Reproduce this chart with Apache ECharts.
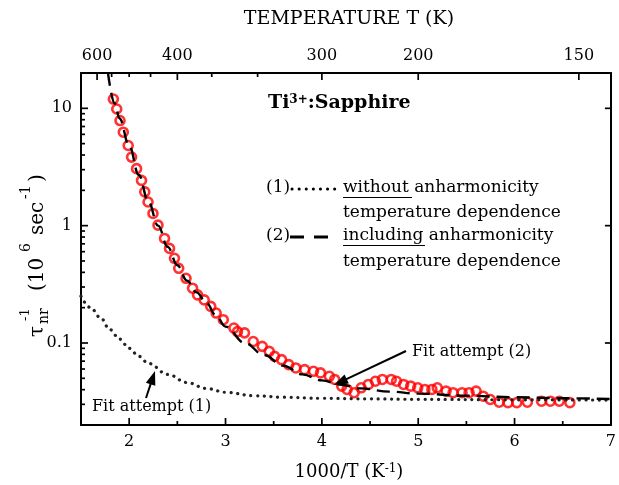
<!DOCTYPE html>
<html><head><meta charset="utf-8">
<script src="https://cdn.jsdelivr.net/npm/echarts@6/dist/echarts.min.js"></script>
<style>html,body{margin:0;padding:0;background:#fff}#c{width:619px;height:485px}</style>
</head><body><div id="c"></div>
<script>
// ---- measured data (1000/T in K^-1, rate in 10^6 s^-1) ----
const dataX = [1.836,1.871,1.905,1.939,1.990,2.025,2.077,2.128,2.162,2.196,2.247,2.299,2.367,2.419,2.470,2.514,2.590,2.658,2.710,2.779,2.847,2.903,2.977,3.087,3.124,3.197,3.288,3.381,3.454,3.509,3.582,3.656,3.729,3.821,3.913,3.986,4.078,4.133,4.206,4.262,4.335,4.408,4.482,4.555,4.628,4.720,4.775,4.848,4.922,4.995,5.069,5.142,5.198,5.289,5.362,5.455,5.528,5.601,5.675,5.748,5.840,5.932,6.023,6.133,6.280,6.371,6.464,6.574];
const dataY = [12.0,9.87,7.87,6.26,4.82,3.84,3.06,2.43,1.94,1.59,1.27,1.01,0.778,0.640,0.527,0.433,0.356,0.293,0.257,0.233,0.205,0.180,0.158,0.134,0.125,0.122,0.103,0.0936,0.0849,0.0769,0.0721,0.0654,0.0613,0.0593,0.0574,0.0556,0.0520,0.0489,0.0429,0.0402,0.0377,0.0415,0.0443,0.0472,0.0489,0.0489,0.0472,0.0443,0.0429,0.0415,0.0402,0.0402,0.0415,0.0389,0.0377,0.0377,0.0377,0.0389,0.0352,0.0330,0.0313,0.0310,0.0310,0.0313,0.0319,0.0319,0.0319,0.0310];
// fit (1): without anharmonicity (dotted)
const fit1X = [1.5,1.6,1.7,1.8,1.9,2.0,2.1,2.2,2.4,2.6,2.8,3.0,3.3,3.6,4.0,4.5,5.0,6.0,7.0];
const fit1Y = [0.25,0.2,0.165,0.13,0.108,0.09,0.077,0.067,0.054,0.046,0.041,0.038,0.0355,0.0345,0.0338,0.0334,0.0331,0.0328,0.0326];
// fit (2): including anharmonicity (dashed)
const fit2X = [1.78,1.85,1.90,2.0,2.1,2.2,2.3,2.4,2.5,2.6,2.7,2.8,2.9,3.0,3.2,3.4,3.6,3.8,4.0,4.2,4.4,4.7,5.0,5.5,6.0,6.5,7.0];
const fit2Y = [20,11,8.2,4.8,2.7,1.6,1.0,0.66,0.46,0.34,0.27,0.22,0.172,0.138,0.1,0.079,0.064,0.054,0.048,0.044,0.041,0.0385,0.037,0.0355,0.0345,0.0338,0.0333];
// ---- axes ticks / labels ----
const X_MIN = 1.5, X_MAX = 7, Y_MIN = 0.02, Y_MAX = 20;
const xMajor = [2,3,4,5,6,7];
const xMinor = [2.5,3.5,4.5,5.5,6.5];
const topLabelPos = [1.667,2.5,4.0,5.0,6.667];
const topLabels = ['600','400','300','200','150'];
const topMinorPos = [1.818,2.0,2.222,2.857,3.333];
const yMajor = [0.1,1,10];
const yLabels = ['0.1','1','10'];
const yMinor = [0.03,0.04,0.05,0.06,0.07,0.08,0.09,0.2,0.3,0.4,0.5,0.6,0.7,0.8,0.9,2,3,4,5,6,7,8,9];

const FONT = 'DejaVu Serif';
const TICK_COLOR = '#000';
const chart = echarts.init(document.getElementById('c'), null, {renderer:'canvas'});
const zip = (a,b)=>a.map((v,i)=>[v,b[i]]);
function lab(list, labels){
  return v => { for (let i=0;i<list.length;i++){ if (Math.abs(list[i]-v) < 1e-6*Math.max(1,Math.abs(v))) return labels[i]; } return ''; };
}
const lineS = {color:'#000', width:2};
const labStyle = {margin:9, fontFamily:FONT, fontSize:16, color:'#000'};
function xAx(pos, ticks, labels){
  return {type:'value', position:pos, min:X_MIN, max:X_MAX,
    axisLine:{show:true, onZero:false, lineStyle:lineS},
    axisTick:{show:false},
    axisLabel: Object.assign({show:true, customValues:ticks, formatter:lab(ticks, labels)}, labStyle),
    splitLine:{show:false}};
}
function yAx(pos, ticks, labels){
  return {type:'log', position:pos, min:Y_MIN, max:Y_MAX, logBase:10,
    axisLine:{show:true, onZero:false, lineStyle:lineS},
    axisTick:{show:false},
    axisLabel: labels ? Object.assign({show:true, customValues:ticks, formatter:lab(ticks, labels)}, labStyle) : {show:false},
    splitLine:{show:false}, minorTick:{show:false}, minorSplitLine:{show:false}};
}
// tick marks drawn through the axes' own scales (api.coord)
function tickSeries(vals, side, len){
  const isX = side==='bottom' || side==='top';
  return {type:'custom', xAxisIndex:0, yAxisIndex:0, clip:false, silent:true, z:6,
    data: vals.map(v=> isX ? [v, 1] : [2, v]),
    renderItem:(params, api)=>{
      const v = api.value(isX ? 0 : 1);
      let p, q;
      if (side==='bottom'){ p = api.coord([v, Y_MIN]); q = [p[0], p[1]-len]; }
      else if (side==='top'){ p = api.coord([v, Y_MAX]); q = [p[0], p[1]+len]; }
      else if (side==='left'){ p = api.coord([X_MIN, v]); q = [p[0]+len, p[1]]; }
      else { p = api.coord([X_MAX, v]); q = [p[0]-len, p[1]]; }
      return {type:'line', shape:{x1:p[0],y1:p[1],x2:q[0],y2:q[1]}, style:{stroke:TICK_COLOR, lineWidth:1.7}};
    }};
}
function arrow(x1,y1,x2,y2){
  const dx=x2-x1, dy=y2-y1, L=Math.hypot(dx,dy), ux=dx/L, uy=dy/L, px=-uy, py=ux;
  const hl=14, hw=5, bx=x2-ux*hl, by=y2-uy*hl;
  return [
    {type:'line', shape:{x1:x1,y1:y1,x2:bx+ux*2,y2:by+uy*2}, style:{stroke:'#000', lineWidth:2}, z:100},
    {type:'polygon', shape:{points:[[x2,y2],[bx+px*hw,by+py*hw],[bx-px*hw,by-py*hw]]}, style:{fill:'#000'}, z:100}
  ];
}
const T = (x,y,text,size,extra)=>Object.assign({type:'text', x:x, y:y, z:100, style:Object.assign({text:text, font:`${size}px "${FONT}"`, fill:'#000', textAlign:'left', textVerticalAlign:'middle'}, extra||{})});

const graphic = [
  T(349,19,'TEMPERATURE T (K)',19,{textAlign:'center'}),
  {type:'text', x:349, y:472, z:100, style:{text:'1000/T (K{s|-1})', font:`18px "${FONT}"`, fill:'#000', textAlign:'center', textVerticalAlign:'middle', rich:{s:{font:`12px "${FONT}"`, fill:'#000', verticalAlign:'top'}}}},
  {type:'group', x:38, y:337, rotation:Math.PI/2, children:[
    T(0,0,'τ',20),
    T(13,6,'nr',14),
    T(16,-12,'-1',13),
    T(46,0,'(10',20),
    T(85,-12,'6',14),
    T(102,0,'sec',20),
    T(138,-12,'-1',14),
    T(155,0,')',20)
  ]},
  {type:'text', x:268, y:103, z:100, style:{text:'Ti{s|3+}:Sapphire', font:`bold 19px "${FONT}"`, fill:'#000', textAlign:'left', textVerticalAlign:'middle', rich:{s:{font:`bold 12px "${FONT}"`, fill:'#000', verticalAlign:'top'}}}},
  T(266,188,'(1)',17),
  {type:'line', shape:{x1:292,y1:189,x2:336,y2:189}, style:{stroke:'#000', lineWidth:3, lineDash:[0.1,7], lineCap:'round'}, z:100},
  T(343,188,'without anharmonicity',17),
  {type:'line', shape:{x1:343,y1:197.5,x2:412,y2:197.5}, style:{stroke:'#000', lineWidth:1}, z:100},
  T(343,213,'temperature dependence',17),
  T(266,236,'(2)',17),
  {type:'line', shape:{x1:290,y1:237,x2:304,y2:237}, style:{stroke:'#000', lineWidth:3}, z:100},
  {type:'line', shape:{x1:314,y1:237,x2:328,y2:237}, style:{stroke:'#000', lineWidth:3}, z:100},
  T(343,236,'including anharmonicity',17),
  {type:'line', shape:{x1:343,y1:245.5,x2:425,y2:245.5}, style:{stroke:'#000', lineWidth:1}, z:100},
  T(343,262,'temperature dependence',17),
  T(412,352,'Fit attempt (2)',16),
  T(92,407,'Fit attempt (1)',16)
].concat(arrow(406,351,334,385), arrow(146,398,155,371));

chart.setOption({
  backgroundColor:'#fff',
  animation:false,
  grid:{left:81, right:4, top:73, bottom:60, containLabel:false},
  xAxis:[ xAx('bottom', xMajor, xMajor.map(String)), xAx('top', topLabelPos, topLabels) ],
  yAxis:[ yAx('left', yMajor, yLabels), yAx('right', yMajor, null) ],
  series:[
    {type:'scatter', xAxisIndex:0, yAxisIndex:0, data:zip(dataX,dataY), symbol:'circle', symbolSize:9,
      itemStyle:{color:'rgba(255,255,255,0)', borderColor:'#ff0000', borderWidth:2.6}, z:2},
    {type:'line', xAxisIndex:0, yAxisIndex:0, data:zip(fit1X,fit1Y), showSymbol:false, smooth:0.4, smoothMonotone:'x',
      lineStyle:{color:'#222', width:3.2, type:[0.1,6.6], cap:'round'}, z:3},
    {type:'line', xAxisIndex:0, yAxisIndex:0, data:zip(fit2X,fit2Y), showSymbol:false, smooth:0.4, smoothMonotone:'x',
      lineStyle:{color:'#000', width:2.4, type:[13,7]}, z:4},
    tickSeries(xMajor, 'bottom', 7),
    tickSeries(xMinor, 'bottom', 4),
    tickSeries(topLabelPos, 'top', 7),
    tickSeries(topMinorPos, 'top', 4),
    tickSeries(yMajor, 'left', 7),
    tickSeries(yMinor, 'left', 4),
    tickSeries(yMajor, 'right', 6)
  ],
  graphic:graphic
});
</script></body></html>
